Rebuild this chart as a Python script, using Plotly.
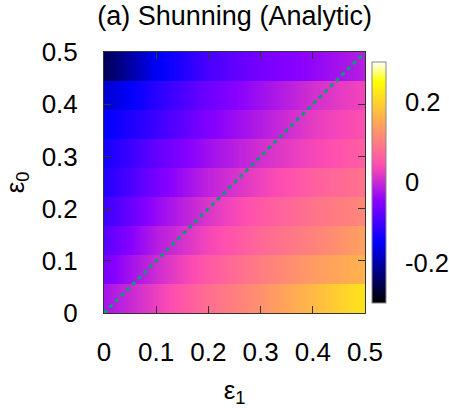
import numpy as np
import plotly.graph_objects as go

# columns of the map (epsilon_1) and the band edges along epsilon_0
eps1 = [0.0, 0.1, 0.2, 0.3, 0.4, 0.5]
eps0_edges = [0.0, 0.0556, 0.1111, 0.1667, 0.2222, 0.2778, 0.3333, 0.3889, 0.4444, 0.5]

# value in each eps0 band (bottom band first), read at eps1 = 0 .. 0.5
z_bands = [
    [-0.025, 0.027, 0.081, 0.123, 0.170, 0.222],
    [-0.060, 0.004, 0.057, 0.099, 0.135, 0.162],
    [-0.083, -0.014, 0.034, 0.075, 0.105, 0.141],
    [-0.105, -0.037, 0.015, 0.057, 0.087, 0.111],
    [-0.125, -0.060, -0.007, 0.030, 0.064, 0.087],
    [-0.135, -0.075, -0.030, 0.008, 0.035, 0.064],
    [-0.150, -0.105, -0.052, -0.014, 0.023, 0.046],
    [-0.180, -0.120, -0.067, -0.030, 0.008, 0.034],
    [-0.250, -0.155, -0.095, -0.060, -0.040, -0.012],
]

cb_ticks = [-0.2, 0.0, 0.2]
cb_text = ['-0.2', '0', '0.2']


# gnuplot "rgbformulae 30,31,32" palette (black-blue-violet-yellow-white)
def gp_palette(t):
    r = t / 0.32 - 0.78125
    g = 2 * t - 0.84
    if t < 0.25:
        b = 4 * t
    elif t < 0.92:
        b = -2 * t + 1.84
    else:
        b = t / 0.08 - 11.5
    r, g, b = [min(max(v, 0.0), 1.0) for v in (r, g, b)]
    return f'rgb({int(r*255)},{int(g*255)},{int(b*255)})'


colorscale = [[t, gp_palette(t)] for t in np.linspace(0, 1, 51)]

# each band is flat in eps0, smooth along eps1
d = 0.0004
y_rows, z_rows = [], []
for k, row in enumerate(z_bands):
    y_rows += [eps0_edges[k] + d, eps0_edges[k + 1] - d]
    z_rows += [row, row]

font = 'Liberation Sans, Arial, sans-serif'
fs = 26

fig = go.Figure()
fig.add_trace(go.Heatmap(
    x=eps1, y=y_rows, z=z_rows, zsmooth='best', hoverinfo='skip',
    colorscale=colorscale, zmin=-0.3, zmax=0.3,
    colorbar=dict(x=1.027, xanchor='left', xpad=0, y=0.5, yanchor='middle', len=1,
                  thickness=14, outlinecolor='#888888', outlinewidth=1,
                  tickvals=cb_ticks, ticktext=cb_text, ticks='outside', ticklen=14,
                  tickcolor='rgba(0,0,0,0)', tickfont=dict(size=25.5, family=font, color='black'))))

fig.add_trace(go.Scatter(x=eps1, y=eps1, mode='lines', hoverinfo='skip',
    line=dict(color='#009e73', width=3, dash='4px,4px'), showlegend=False))

axis = dict(range=[0, 0.5], dtick=0.1, ticks='inside', ticklen=7, tickcolor='#333333',
            mirror='allticks', showline=True, linecolor='#333333', linewidth=1, automargin=False,
            showgrid=False, zeroline=False, tickfont=dict(size=fs, family=font, color='black'))

fig.update_layout(
    width=449, height=408,
    margin=dict(l=104, r=84, t=52, b=95, autoexpand=False),
    paper_bgcolor='white', plot_bgcolor='white',
    title=dict(text='(a) Shunning (Analytic)', x=0.5225, xanchor='center', y=0.962, yanchor='middle',
               font=dict(size=27, family=font, color='black')),
    xaxis=dict(axis, ticklabelstandoff=16,
               title=dict(text='ε<sub>1</sub>', font=dict(size=fs, family=font, color='black'), standoff=15)),
    yaxis=dict(axis, ticklabelstandoff=20,
               title=dict(text='ε<sub>0</sub>', font=dict(size=fs, family=font, color='black'), standoff=46)),
    showlegend=False,
)

# drop the page's default body margin so the figure fills the window exactly
fig.write_html('out.html', config={'displayModeBar': False},
               post_script="document.body.style.margin='0px';")
